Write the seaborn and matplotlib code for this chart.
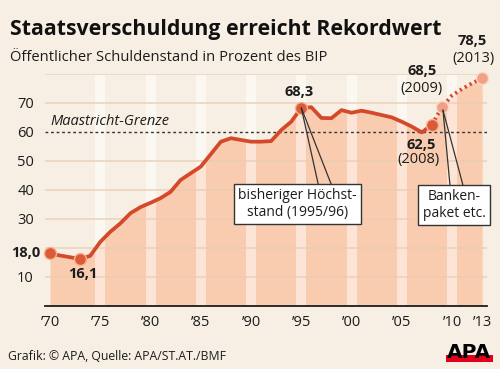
import pandas as pd
import seaborn as sns
import matplotlib.pyplot as plt
from matplotlib import font_manager
from matplotlib.patches import Rectangle

# Öffentlicher Schuldenstand Österreich in % des BIP
years = list(range(1970, 2014))
debt = [18.0, 17.3, 16.7, 16.1, 17.2, 22.0, 25.5, 28.4, 31.9, 34.0,
        35.5, 37.1, 39.3, 43.4, 45.7, 48.0, 52.3, 56.6, 57.8, 57.2,
        56.6, 56.6, 56.8, 60.6, 63.5, 68.3, 68.5, 64.8, 64.7, 67.5,
        66.6, 67.3, 66.6, 65.8, 65.0, 63.5, 61.8, 59.8, 62.5, 68.5,
        72.6, 74.8, 76.8, 78.5]
highlight_years = [1970, 1973, 1995, 2008]
forecast_marks = [2009, 2013]
stripe_years = [1975, 1980, 1985, 1990, 1995, 2000, 2005, 2010]
xtick_years = [1970, 1975, 1980, 1985, 1990, 1995, 2000, 2005, 2010, 2013]
xtick_labels = ['’70', '’75', '’80', '’85', '’90', '’95', '’00', '’05', '’10', '’13']
ytick_values = [10, 30, 40, 50, 60, 70]
grid_values = [10, 20, 30, 40, 50, 70, 80]
maastricht = 60

bg = '#f7efe4'
fill_col = '#f9ccb0'
line_col = '#d5492b'
grid_col = '#e9ccb2'
dark = '#1c1c1c'

df = pd.DataFrame({'year': years, 'debt': debt})
df['x'] = df['year'] + 0.5
solid = df[df['year'] <= 2008]
dotted = df[df['year'] >= 2008]
hl = df[df['year'].isin(highlight_years)]
fc = df[df['year'].isin(forecast_marks)]

sns.set_theme(style='white')
plt.rcParams['font.family'] = ['Open Sans', 'DejaVu Sans']


def has_font(name):
    try:
        font_manager.findfont(font_manager.FontProperties(family=name), fallback_to_default=False)
        return True
    except ValueError:
        return False


fig = plt.figure(figsize=(5, 3.69), dpi=100, facecolor=bg)
ax = fig.add_axes([0.09, 0.1718, 0.8844, 0.6279])
ax.set_facecolor(bg)
ax.set_xlim(1970, 2014)
ax.set_ylim(0, 80)

# area under the curve + light 5-year columns
ax.fill_between(df['x'], 0, df['debt'], color=fill_col, lw=0, zorder=1)
for y in stripe_years:
    ax.axvspan(y, y + 1, color='white', alpha=0.5, lw=0, zorder=2)
for g in grid_values:
    ax.axhline(g, color=grid_col, lw=1.1, alpha=0.85, zorder=3)
ax.axhline(maastricht, color='#333333', lw=1, ls=(0, (2, 2)), zorder=3)

sns.lineplot(data=solid, x='x', y='debt', color=line_col, lw=2.7, ax=ax, zorder=5)
sns.lineplot(data=dotted, x='x', y='debt', color=line_col, lw=2.7, ls=(0, (0.6, 0.9)), ax=ax, zorder=5)
sns.scatterplot(data=hl, x='x', y='debt', s=75, color='#dd5a36', edgecolor='#f5b49a',
                linewidth=1, ax=ax, zorder=6, clip_on=False)
sns.scatterplot(data=fc, x='x', y='debt', s=75, color='#f0a085', edgecolor='#fbd9c8',
                linewidth=1, ax=ax, zorder=6, clip_on=False)

# axes
for s in ['top', 'right', 'left']:
    ax.spines[s].set_visible(False)
ax.spines['bottom'].set_color(dark)
ax.spines['bottom'].set_linewidth(1.3)
ax.set_xticks(range(1970, 2015))
ax.set_xticklabels([])
ax.tick_params(axis='x', which='major', direction='out', length=4, width=1, color=dark)
ax.set_xticks([y + 0.5 for y in xtick_years], xtick_labels, minor=True)
ax.tick_params(axis='x', which='minor', length=0, pad=7, labelsize=10.5, labelcolor=dark)
ax.set_yticks(ytick_values)
ax.set_yticklabels([str(v) for v in ytick_values])
ax.tick_params(axis='y', length=0, pad=8, labelsize=10.5, labelcolor=dark)
ax.set_xlabel('')
ax.set_ylabel('')

# labels
ax.text(1970.5, 63.4, 'Maastricht-Grenze', style='italic', fontsize=10.5, color=dark,
        va='center', ha='left', zorder=7)
bold = dict(fontsize=10.5, fontweight='bold', color=dark, ha='center', va='center', zorder=7)
reg = dict(fontsize=10.5, color=dark, ha='center', va='center', zorder=7)
ax.text(1969.5, 18.2, '18,0', **{**bold, 'ha': 'right'}, clip_on=False)
ax.text(1973.75, 10.8, '16,1', **bold)
ax.text(1995.3, 73.9, '68,3', **bold)
ax.text(2007.4, 55.5, '62,5', **bold)
ax.text(2007.2, 50.3, '(2008)', **reg)
ax.text(2007.5, 81.1, '68,5', **bold, clip_on=False)
ax.text(2007.5, 75.1, '(2009)', **reg)
ax.text(2012.5, 91.2, '78,5', **bold, clip_on=False)
ax.text(2012.6, 85.4, '(2013)', **reg, clip_on=False)

# callouts
box = dict(boxstyle='square,pad=0.3', facecolor='white', edgecolor='#333333', lw=1)
ax.plot([1995.5, 1997.2], [68.3, 41.7], color='#333333', lw=0.9, zorder=6)
ax.plot([1995.5, 1998.5], [68.3, 41.7], color='#333333', lw=0.9, zorder=6)
ax.text(1995.1, 35.1, 'bisheriger Höchst-\nstand (1995/96)', fontsize=10, color=dark,
        ha='center', va='center', linespacing=1.15, bbox=box, zorder=8)
ax.plot([2009.6, 2010.3], [67.5, 41.4], color='#333333', lw=0.9, zorder=6)
ax.plot([2009.6, 2011.6], [67.5, 41.4], color='#333333', lw=0.9, zorder=6)
ax.text(2010.7, 34.7, 'Banken-\npaket etc.', fontsize=10, color=dark,
        ha='center', va='center', linespacing=1.15, bbox=box, zorder=8, clip_on=False)

# title block
if has_font('Liberation Sans Narrow'):
    fig.text(0.02, 0.905, 'Staatsverschuldung erreicht Rekordwert', fontsize=17.5,
             fontweight='bold', family='Liberation Sans Narrow', color='#111111', va='baseline')
else:
    fig.text(0.02, 0.905, 'Staatsverschuldung erreicht Rekordwert', fontsize=15.3,
             fontweight='bold', color='#111111', va='baseline')
fig.text(0.02, 0.835, 'Öffentlicher Schuldenstand in Prozent des BIP', fontsize=10.6,
         color=dark, va='baseline')
fig.text(0.016, 0.024, 'Grafik: © APA, Quelle: APA/ST.AT./BMF', fontsize=8.8,
         color=dark, va='baseline')

# APA logo
fig.patches.append(Rectangle((0.892, 0.019), 0.094, 0.019, transform=fig.transFigure,
                             facecolor='#e2001a', lw=0))
fig.text(0.939, 0.03, 'APA', fontsize=14.5, fontweight='bold', family='DejaVu Sans',
         color='black', ha='center', va='baseline')

fig.savefig('out.png', dpi=100, facecolor=bg)
